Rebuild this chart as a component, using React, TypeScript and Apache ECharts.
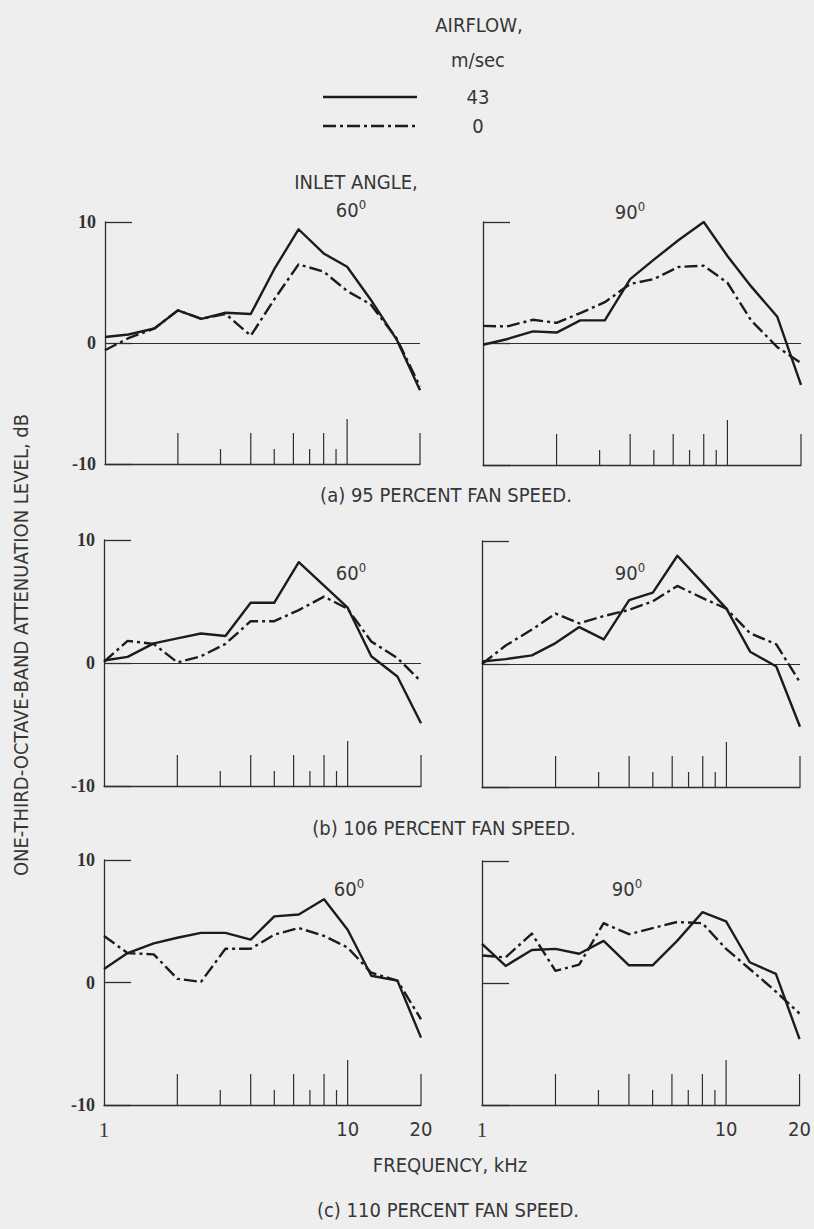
import React, { useEffect, useRef } from 'react';
import * as echarts from 'echarts';

// one-third-octave band centre frequencies, kHz
const freqs = [1, 1.25, 1.6, 2, 2.5, 3.15, 4, 5, 6.3, 8, 10, 12.5, 16, 20];

// (a) 95 percent fan speed
const a60_air43 = [0.5, 0.7, 1.2, 2.7, 2.0, 2.5, 2.4, 6.1, 9.4, 7.4, 6.3, 3.6, 0.3, -3.9];
const a60_air0 = [-0.6, 0.4, 1.2, 2.7, 2.0, 2.4, 0.6, 3.6, 6.5, 5.9, 4.3, 3.2, 0.4, -3.6];
const a90_air43 = [-0.1, 0.35, 1.0, 0.9, 1.9, 1.9, 5.3, 6.9, 8.5, 10.0, 7.2, 4.7, 2.2, -3.4];
const a90_air0 = [1.45, 1.4, 1.95, 1.7, 2.5, 3.4, 4.9, 5.3, 6.3, 6.4, 5.0, 1.9, -0.3, -1.6];

// (b) 106 percent fan speed
const b60_air43 = [0.2, 0.5, 1.6, 2.0, 2.4, 2.2, 4.9, 4.9, 8.2, 6.3, 4.5, 0.55, -1.1, -4.9];
const b60_air0 = [0.1, 1.8, 1.55, 0.05, 0.55, 1.55, 3.4, 3.4, 4.3, 5.4, 4.4, 1.75, 0.4, -1.5];
const b90_air43 = [0.2, 0.4, 0.7, 1.7, 3.0, 2.0, 5.2, 5.8, 8.8, 6.6, 4.5, 1.0, -0.2, -5.1];
const b90_air0 = [0.0, 1.5, 2.8, 4.1, 3.3, 3.9, 4.4, 5.1, 6.35, 5.35, 4.5, 2.5, 1.6, -1.5];

// (c) 110 percent fan speed
const c60_air43 = [1.1, 2.4, 3.2, 3.65, 4.05, 4.05, 3.5, 5.4, 5.55, 6.8, 4.3, 0.55, 0.15, -4.5];
const c60_air0 = [3.8, 2.4, 2.3, 0.3, 0.05, 2.75, 2.75, 3.9, 4.45, 3.8, 2.85, 0.8, 0.15, -3.0];
const c90_air43 = [3.2, 1.4, 2.7, 2.8, 2.4, 3.45, 1.45, 1.45, 3.45, 5.8, 5.05, 1.7, 0.75, -4.6];
const c90_air0 = [2.25, 2.1, 4.05, 1.0, 1.5, 4.9, 4.0, 4.5, 5.0, 4.9, 2.8, 1.15, -0.7, -2.5];

// frequency marks drawn inside each frame along the bottom
const markFreqs = [2, 3, 4, 5, 6, 7, 8, 9, 10, 20];

const yMin = -10;
const yMax = 10;
const yStep = 10;

const airflowLabels = ['43', '0'];
const angleLabels = ['60', '90'];
const captions = [
  '(a) 95 PERCENT FAN SPEED.',
  '(b) 106 PERCENT FAN SPEED.',
  '(c) 110 PERCENT FAN SPEED.',
];

const panels = [
  { solid: a60_air43, dash: a60_air0, zero: true, yLab: true, xLab: false },
  { solid: a90_air43, dash: a90_air0, zero: true, yLab: false, xLab: false },
  { solid: b60_air43, dash: b60_air0, zero: true, yLab: true, xLab: false },
  { solid: b90_air43, dash: b90_air0, zero: true, yLab: false, xLab: false },
  { solid: c60_air43, dash: c60_air0, zero: false, yLab: true, xLab: true },
  { solid: c90_air43, dash: c90_air0, zero: false, yLab: false, xLab: true },
];

const layouts = [
  { left: 105, top: 222, width: 315, height: 242 },
  { left: 483, top: 222, width: 318, height: 243 },
  { left: 104, top: 540, width: 317, height: 246 },
  { left: 482, top: 541, width: 318, height: 246 },
  { left: 104, top: 860, width: 317, height: 245 },
  { left: 482, top: 861, width: 318, height: 244 },
];

const SANS = "'Liberation Sans Narrow', 'DejaVu Sans Condensed', 'Liberation Sans', sans-serif";
const SERIF = "'Liberation Serif', 'DejaVu Serif', serif";
const INK = '#1c1c1c';
const AX = '#2e2e2e';
const TXT = '#363636';
const BG = '#eeeeee';
const DASHDOT = [13, 4, 3, 4];
const FS = 20;

function markLen(f: number) {
  if (f === 10) return 45;
  if (f === 3 || f === 5 || f === 7 || f === 9) return 15;
  return 31;
}

function txt(x: number, y: number, text: string, size = FS, extra: any = {}) {
  return {
    type: 'text',
    x,
    y,
    silent: true,
    ...extra,
    style: {
      text,
      fontFamily: SANS,
      fontSize: size,
      fill: TXT,
      align: 'center',
      textAlign: 'center',
      verticalAlign: 'middle',
      textVerticalAlign: 'middle',
    },
  };
}

function degree(x: number, y: number, n: string) {
  return {
    type: 'text',
    x,
    y,
    silent: true,
    style: {
      text: `{n|${n}}{s|0}`,
      align: 'center',
      textAlign: 'center',
      verticalAlign: 'middle',
      textVerticalAlign: 'middle',
      fill: TXT,
      rich: {
        n: { fontFamily: SANS, fontSize: 20, fill: TXT, lineHeight: 22, verticalAlign: 'bottom' },
        s: { fontFamily: SANS, fontSize: 13, fill: TXT, lineHeight: 13, verticalAlign: 'top' },
      },
    },
  };
}

export default function App() {
  const ref = useRef<HTMLDivElement>(null);

  useEffect(() => {
    if (!ref.current) return;
    const chart = echarts.init(ref.current, null, { renderer: 'svg' });

    const series: any[] = [];
    panels.forEach((p, i) => {
      series.push({
        type: 'line',
        name: airflowLabels[0],
        xAxisIndex: i,
        yAxisIndex: i,
        data: freqs.map((f, k) => [f, p.solid[k]]),
        symbol: 'none',
        z: 5,
        lineStyle: { color: INK, width: 2.4, join: 'round' },
        markLine: p.zero
          ? {
              silent: true,
              symbol: 'none',
              label: { show: false },
              lineStyle: { color: AX, width: 1.1, type: 'solid' },
              data: [{ yAxis: 0 }],
              z: 1,
            }
          : undefined,
      });
      series.push({
        type: 'line',
        name: airflowLabels[1],
        xAxisIndex: i,
        yAxisIndex: i,
        data: freqs.map((f, k) => [f, p.dash[k]]),
        symbol: 'none',
        z: 4,
        lineStyle: { color: INK, width: 2.4, type: DASHDOT, join: 'round' },
      });
      series.push({
        type: 'custom',
        xAxisIndex: i,
        yAxisIndex: i,
        silent: true,
        data: markFreqs.map((f) => [f, yMin]),
        renderItem: (params: any, api: any) => {
          const f = api.value(0);
          const pt = api.coord([f, api.value(1)]);
          return {
            type: 'line',
            shape: { x1: pt[0], y1: pt[1], x2: pt[0], y2: pt[1] - markLen(f) },
            style: { stroke: AX, lineWidth: 1.2 },
          };
        },
      });
    });

    const graphic: any[] = [
      txt(479, 25, 'AIRFLOW,'),
      txt(478, 60, 'm/sec'),
      { type: 'line', silent: true, shape: { x1: 323, y1: 97, x2: 417, y2: 97 }, style: { stroke: INK, lineWidth: 2.4 } },
      { type: 'line', silent: true, shape: { x1: 323, y1: 126, x2: 417, y2: 126 }, style: { stroke: INK, lineWidth: 2.4, lineDash: DASHDOT } },
      txt(478, 97, airflowLabels[0]),
      txt(478, 126, airflowLabels[1]),
      txt(356, 182, 'INLET ANGLE,'),
      degree(351, 209, angleLabels[0]),
      degree(630, 211, angleLabels[1]),
      degree(351, 572, angleLabels[0]),
      degree(630, 572, angleLabels[1]),
      degree(349, 888, angleLabels[0]),
      degree(627, 888, angleLabels[1]),
      txt(446, 495, captions[0]),
      txt(444, 828, captions[1]),
      txt(448, 1210, captions[2]),
      txt(450, 1165, 'FREQUENCY, kHz'),
      txt(21, 645, 'ONE-THIRD-OCTAVE-BAND ATTENUATION LEVEL, dB', FS, { rotation: Math.PI / 2 }),
    ];

    const option: any = {
      animation: false,
      backgroundColor: BG,
      grid: layouts.map((g) => ({ ...g })),
      xAxis: panels.map((p, i) => ({
        type: 'log',
        logBase: 10,
        min: 1,
        max: 20,
        gridIndex: i,
        axisLine: { show: true, onZero: false, lineStyle: { color: AX, width: 1.3 } },
        axisTick: { show: false },
        minorTick: { show: false },
        splitLine: { show: false },
        minorSplitLine: { show: false },
        axisLabel: {
          show: p.xLab,
          margin: 14,
          showMinLabel: true,
          showMaxLabel: true,
          hideOverlap: false,
          color: TXT,
          fontFamily: SANS,
          fontSize: FS,
          formatter: (v: number) => {
            const r = Math.round(v);
            return r === 1 ? '{s|1}' : String(r);
          },
          rich: { s: { fontFamily: SERIF, fontSize: 21, color: TXT } },
        },
      })),
      yAxis: panels.map((p, i) => ({
        type: 'value',
        min: yMin,
        max: yMax,
        interval: yStep,
        gridIndex: i,
        axisLine: { show: true, onZero: false, lineStyle: { color: AX, width: 1.3 } },
        axisTick: { show: true, inside: true, length: 27, lineStyle: { color: AX, width: 1.3 } },
        splitLine: { show: false },
        axisLabel: {
          show: p.yLab,
          margin: 9,
          color: '#333',
          fontFamily: SERIF,
          fontWeight: 'bold',
          fontSize: 18,
          showMinLabel: true,
          showMaxLabel: true,
        },
      })),
      series,
      graphic,
    };

    chart.setOption(option);
    return () => chart.dispose();
  }, []);

  return (
    <div
      ref={ref}
      style={{ position: 'fixed', left: 0, top: 0, width: 814, height: 1229, background: BG }}
    />
  );
}
